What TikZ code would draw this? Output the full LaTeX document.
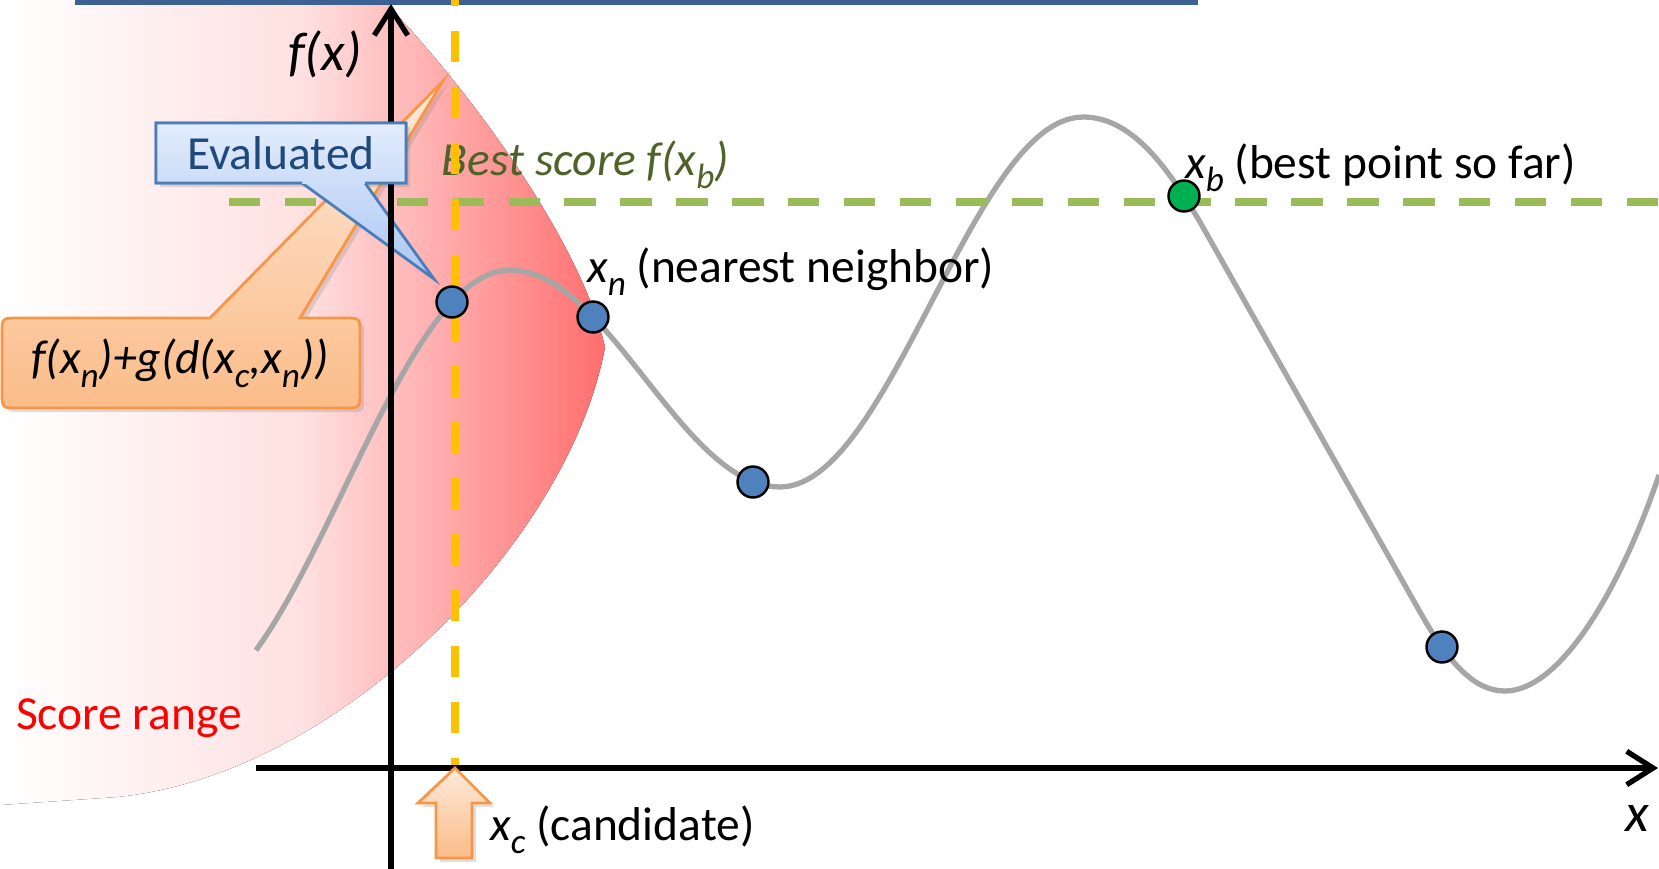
\documentclass[tikz,border=0pt]{standalone}
\usepackage{fontspec}
\setmainfont{Carlito}
\usetikzlibrary{arrows.meta,shadows}

\definecolor{barblue}{HTML}{3E6194}
\definecolor{curvegray}{HTML}{A6A6A6}
\definecolor{dotblue}{HTML}{4F81BD}
\definecolor{dotgreen}{HTML}{00B050}
\definecolor{bestgreen}{HTML}{9BBB59}
\definecolor{bestolive}{HTML}{4F6228}
\definecolor{candyellow}{HTML}{FFC000}
\definecolor{calloutorange}{HTML}{F79646}
\definecolor{orangelight}{HTML}{FEEADB}
\definecolor{orangedark}{HTML}{FBBC88}
\definecolor{bluelight}{HTML}{E2ECFC}
\definecolor{bluedark}{HTML}{AAC6F4}
\definecolor{calloutblue}{HTML}{4A7EBB}
\definecolor{textblue}{HTML}{1F497D}
\definecolor{rangered}{RGB}{255,110,110}

\newcommand{\lowsub}[1]{\raisebox{-0.6ex}{\fontsize{10}{11}\selectfont\itshape #1}}

\tikzset{
  sample/.style={circle, draw=black, line width=0.7pt, fill=dotblue, minimum size=8.8pt, inner sep=0pt},
  axisline/.style={line width=1.5pt, -{Straight Barb[length=7.5pt,width=9.5pt]}},
  bestline/.style={bestgreen, line width=2.3pt, dash pattern=on 8.9pt off 7pt},
  candline/.style={candyellow, line width=2.2pt, dash pattern=on 8.8pt off 7.1pt, dash phase=7.1pt},
  txt/.style={font=\fontsize{13.5}{16}\selectfont, inner sep=0pt, outer sep=0pt},
  axlab/.style={font=\fontsize{15.5}{18}\selectfont\itshape, inner sep=0pt},
  orangefill/.style={draw=calloutorange, line width=0.8pt, top color=orangelight, bottom color=orangedark},
  callshadow/.style={drop shadow={shadow xshift=1.2pt, shadow yshift=-1.2pt, opacity=0.25}}
}

\begin{document}
\begin{tikzpicture}[x=0.01cm, y=-0.01cm]
\useasboundingbox (0,0) rectangle (1659,869);

\fill[left color=white, right color=rangered, middle color=red!12]
  (0,0) -- (383,0) .. controls (470,90) and (580,240) .. (605,347)
  .. controls (570,540) and (340,775) .. (117,797) -- (0,805) -- cycle;
\fill[barblue] (75,0) rectangle (1198,5);

\draw[curvegray, line width=1.5pt, line join=round]
  plot[domain=256:510, samples=40] (\x, {487.8-217.8*cos(0.5443*(510-\x))})
  -- plot[domain=510:780, samples=40] (\x, {378.5-108.5*cos(0.66667*(\x-510))})
  -- plot[domain=780:1083, samples=40] (\x, {302+185*cos(0.59406*(\x-780))})
  .. controls (1130,117) and (1165,163) .. (1200,222) -- (1420,612)
  .. controls (1450,665) and (1475,691) .. (1505,691)
  .. controls (1560,691) and (1620,590) .. (1659,475);

\coordinate (bl) at (229,202);
\coordinate (br) at (1659,202);
\draw[bestline] (bl) -- (br);

\node[txt, anchor=base west, text=bestolive] (bestlab) at (442,175) {\itshape Best score f(x\lowsub{b})};
\node[txt, anchor=base west] (xnlab) at (587,282) {\textit{x}\lowsub{n} (nearest neighbor)};
\node[txt, anchor=base west] (xblab) at (1185,178) {\textit{x}\lowsub{b} (best point so far)};
\node[txt, anchor=base west] (xclab) at (490,840) {\textit{x}\lowsub{c} (candidate)};
\node[txt, anchor=base west, text=red] (rangelab) at (16,729) {Score range};
\node[axlab] (fxlab) at (325,54) {f(x)};
\node[axlab] (xlab) at (1637,818) {x};

\coordinate (ctop) at (455,0);
\coordinate (xc) at (455,768);
\draw[candline] (ctop) -- (xc);

\path[orangefill, callshadow]
  (210,318) -- (443,81) -- (300,318) -- (344,318) .. controls (360,318) .. (360,334)
  -- (360,392) .. controls (360,408) .. (344,408) -- (18,408) .. controls (2,408) .. (2,392)
  -- (2,334) .. controls (2,318) .. (18,318) -- cycle;
\node[txt] (score) at (180,363) {\itshape f(x\lowsub{n})+g(d(x\lowsub{c},x\lowsub{n}))};

\path[draw=calloutblue, line width=0.8pt, top color=bluelight, bottom color=bluedark, callshadow]
  (156,123) -- (406,123) -- (406,183) -- (365,183) -- (434,279) -- (302,183) -- (156,183) -- cycle;

\coordinate (ybot) at (391,869);
\coordinate (ytop) at (391,4);
\coordinate (xleft) at (256,768);
\coordinate (xright) at (1658,768);
\draw[axisline] (ybot) -- (ytop);
\draw[axisline] (xleft) -- (xright);

\node[txt, text=textblue, minimum width=2.5cm, minimum height=0.6cm,
  top color=bluelight, bottom color=bluedark!38!bluelight] (eval) at (281,153) {Evaluated};
\draw[calloutblue, line width=0.8pt] (302,183) -- (eval.south west) -- (eval.north west)
  -- (eval.north east) -- (eval.south east) -- (365,183);

\node[sample] (xone) at (452,302) {};
\node[sample] (xn) at (593,317) {};
\node[sample] (xthree) at (753,482) {};
\node[sample, fill=dotgreen] (xb) at (1184,196) {};
\node[sample] (xfour) at (1442,647) {};

\path[orangefill, callshadow] (xc) -- (490,803) -- (472,803) -- (472,858)
  -- (436,858) -- (436,803) -- (418,803) -- cycle;
\end{tikzpicture}
\end{document}
